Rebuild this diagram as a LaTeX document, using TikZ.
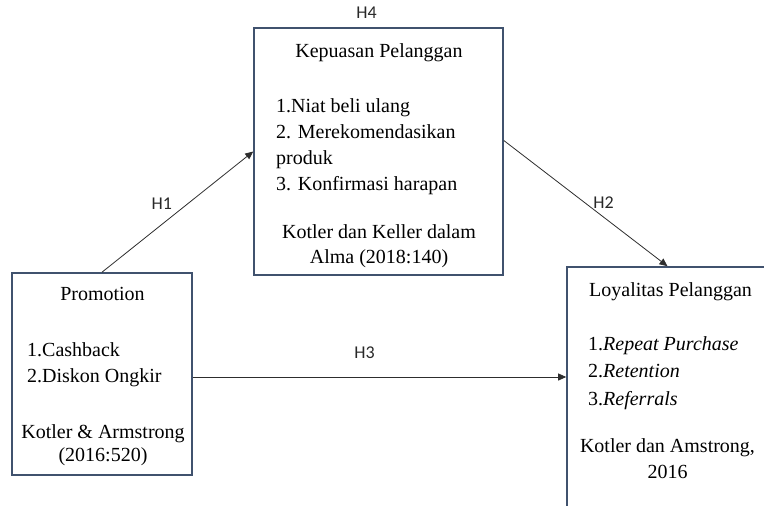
\documentclass[tikz,border=0pt]{standalone}
\usepackage{fontspec}
\setmainfont{Liberation Serif}
\newfontfamily\hypfont{Carlito}
\usetikzlibrary{arrows.meta,positioning}
\definecolor{boxblue}{RGB}{64,82,110}
\definecolor{arrowgray}{RGB}{45,45,45}
\definecolor{labelgray}{RGB}{40,40,40}
\tikzset{
  varbox/.style={draw=boxblue,line width=1.6pt,fill=white,inner sep=0pt},
  boxtext/.style={font=\fontsize{20pt}{26pt}\selectfont,inner sep=0pt,text=black},
  hyp/.style={-{Triangle[length=8pt,width=7pt]},draw=arrowgray,line width=0.8pt},
  hlabel/.style={font=\hypfont\fontsize{18pt}{20pt}\selectfont,inner sep=1pt,text=labelgray},
}

\begin{document}
\begin{tikzpicture}[x=1pt,y=-1pt]
\useasboundingbox (0,0) rectangle (764,506);
\clip (0,0) rectangle (764,506);
% variables
\node[varbox,minimum width=249pt,minimum height=247pt] (kep) at (378.5,151.5) {};
\node[varbox,minimum width=180pt,minimum height=202pt] (promo) at (102,374) {};
\node[varbox,minimum width=201pt,minimum height=273pt] (loy) at (667.5,403.5) {};
% kepuasan
\node[boxtext,anchor=north] (kep-title) at (379,43.5) {Kepuasan Pelanggan};
\node[boxtext,anchor=north west,align=left] (kep-items) at (276,98.5)
  {1.Niat beli ulang\\2. Merekomendasikan\\produk\\3. Konfirmasi harapan};
\node[boxtext,anchor=north,align=center] (kep-src) at (379,224.5)
  {Kotler dan Keller dalam\\[-1pt]Alma (2018:140)};
% promotion
\node[boxtext,anchor=north] (promo-title) at (102.5,287.5) {Promotion};
\node[boxtext,anchor=north west,align=left] (promo-items) at (27,342)
  {1.Cashback\\2.Diskon Ongkir};
\node[boxtext,anchor=north,align=center] (promo-src) at (103,424.5)
  {Kotler \& Armstrong\\[-3pt](2016:520)};
% loyalitas
\node[boxtext,anchor=north west] (loy-title) at (589,282.5) {Loyalitas Pelanggan};
\node[boxtext,anchor=north west,align=left] (loy-items) at (588,336.5)
  {1.\textit{Repeat Purchase}\\[1pt]2.\textit{Retention}\\[2pt]3.\textit{Referrals}};
\node[boxtext,anchor=north,align=center] (loy-src) at (667.5,438.5)
  {Kotler dan Amstrong,\\2016};
% hypotheses
\draw[hyp] (promo.north) -- (kep.west)
  node[hlabel,pos=0.395,above=14pt] (h1) {H1};
\draw[hyp] ([yshift=11pt]kep.east) -- (loy.north)
  node[hlabel,pos=0.61,above=7pt] (h2) {H2};
\draw[hyp] ([yshift=-3pt]promo.east) -- ([yshift=-3pt]promo.east -| loy.west)
  node[hlabel,pos=0.46,above=17pt] (h3) {H3};
\node[hlabel,above=8pt of kep.north,xshift=-12pt] (h4) {H4};
\end{tikzpicture}
\end{document}
